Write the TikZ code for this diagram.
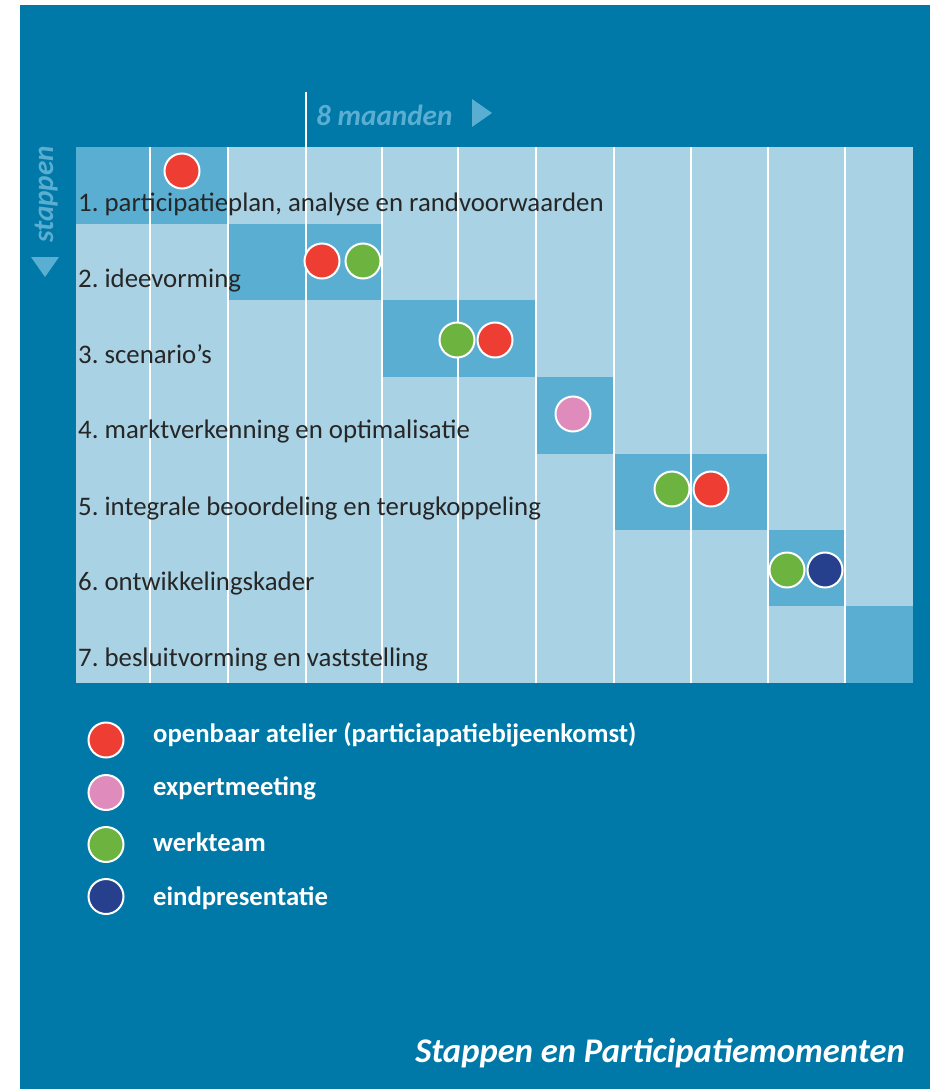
\documentclass[tikz,border=0pt]{standalone}
\usepackage{fontspec}
\setmainfont{Carlito}
\definecolor{bgblue}{RGB}{0,121,168}
\definecolor{lightcell}{RGB}{169,210,228}
\definecolor{darkcell}{RGB}{90,174,210}
\definecolor{dotred}{RGB}{238,62,51}
\definecolor{dotpink}{RGB}{223,139,187}
\definecolor{dotgreen}{RGB}{108,179,63}
\definecolor{dotnavy}{RGB}{39,64,142}
\definecolor{labelgray}{RGB}{38,38,38}
\tikzset{
  gridline/.style={draw=white, line width=2pt},
  stepcell/.style={fill=darkcell},
  dot/.style={circle, draw=white, line width=2pt, minimum size=35pt, inner sep=0pt},
  steplabel/.style={anchor=base west, inner sep=0pt, text=labelgray, font=\fontsize{26.8}{32}\selectfont},
  legendlabel/.style={anchor=base west, inner sep=0pt, text=white, font=\fontsize{26.7}{32}\selectfont\bfseries},
  accenttext/.style={inner sep=0pt, text=darkcell, font=\fontsize{29.2}{34}\selectfont\bfseries\itshape},
}
\frenchspacing
\begin{document}
\begin{tikzpicture}[x=1pt,y=-1pt]
\useasboundingbox (0,0) rectangle (932,1089);
% background
\fill[bgblue] (20,5) rectangle (930,1089);
% grid
\fill[lightcell] (76,147) rectangle (913,683);
\fill[stepcell] (76,147) rectangle (228,223.5);
\fill[stepcell] (228,223.5) rectangle (382,300);
\fill[stepcell] (382,300) rectangle (535,377);
\fill[stepcell] (535,377) rectangle (614,454);
\fill[stepcell] (614,454) rectangle (768,529.5);
\fill[stepcell] (768,529.5) rectangle (844,606);
\fill[stepcell] (844,606) rectangle (913,683);
\foreach \xx in {149.5,228,382,457.5,535.5,614,691,768,844.5}
  \draw[gridline] (\xx,147) -- (\xx,683);
\draw[gridline] (305.5,92) -- (305.5,683);
% header
\node[accenttext, anchor=base west] (months) at (316,125) {8 maanden};
\fill[darkcell] (472,99) -- (492,113) -- (472,127) -- cycle;
\node[accenttext, anchor=base west, rotate=90] (steps) at (53,243) {stappen};
\fill[darkcell] (31,257) -- (59,257) -- (45,277) -- cycle;
% step labels
\node[steplabel] (s1) at (78,211) {1. participatieplan, analyse en randvoorwaarden};
\node[steplabel] (s2) at (78,287) {2. ideevorming};
\node[steplabel] (s3) at (78,363) {3. scenario’s};
\node[steplabel] (s4) at (78,438.5) {4. marktverkenning en optimalisatie};
\node[steplabel] (s5) at (78,515) {5. integrale beoordeling en terugkoppeling};
\node[steplabel] (s6) at (78,590) {6. ontwikkelingskader};
\node[steplabel] (s7) at (78,666) {7. besluitvorming en vaststelling};
% participation moments
\node[dot, fill=dotred] (m1a) at (182,171) {};
\node[dot, fill=dotred] (m2a) at (322,261) {};
\node[dot, fill=dotgreen] (m2b) at (363,261) {};
\node[dot, fill=dotgreen] (m3a) at (457,340) {};
\node[dot, fill=dotred] (m3b) at (495,340) {};
\node[dot, fill=dotpink] (m4a) at (573,414) {};
\node[dot, fill=dotgreen] (m5a) at (672,489) {};
\node[dot, fill=dotred] (m5b) at (711,489) {};
\node[dot, fill=dotgreen] (m6a) at (787,570) {};
\node[dot, fill=dotnavy] (m6b) at (825,570) {};
% legend
\node[dot, fill=dotred] (k1) at (106,740) {};
\node[dot, fill=dotpink] (k2) at (106,792.5) {};
\node[dot, fill=dotgreen] (k3) at (106,844.5) {};
\node[dot, fill=dotnavy] (k4) at (106,896.5) {};
\node[legendlabel] (t1) at (153,742.5) {openbaar atelier (particiapatiebijeenkomst)};
\node[legendlabel] (t2) at (153,795) {expertmeeting};
\node[legendlabel] (t3) at (153,851) {werkteam};
\node[legendlabel] (t4) at (153,905.5) {eindpresentatie};
% title
\node[anchor=base east, inner sep=0pt, text=white, font=\fontsize{34.6}{40}\selectfont\bfseries\itshape] (title) at (905,1062) {Stappen en Participatiemomenten};
\end{tikzpicture}
\end{document}
